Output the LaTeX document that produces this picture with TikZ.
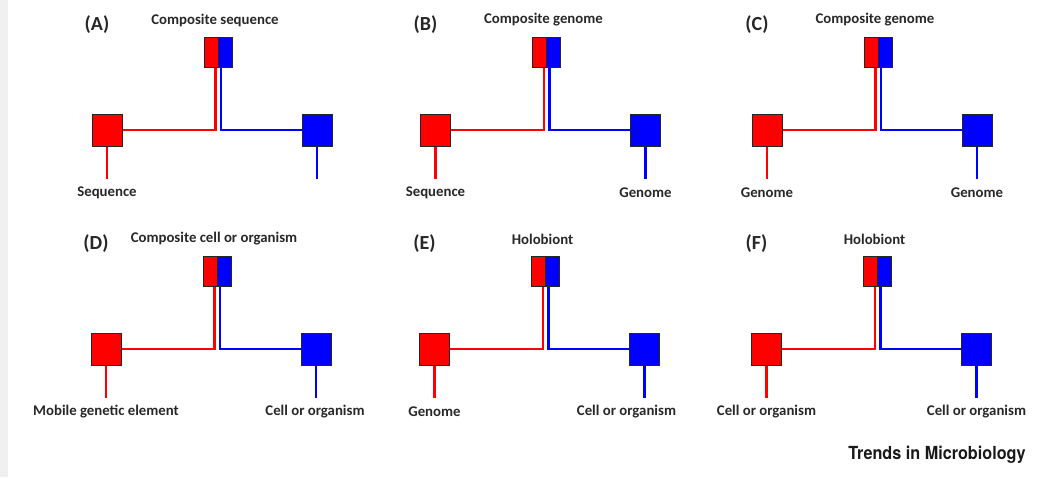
\documentclass[tikz,border=0pt]{standalone}
\usepackage{fontspec}
\usepackage{graphicx}
\setmainfont{Carlito}
\newfontfamily\logofont{TeX Gyre Heros}
\usetikzlibrary{positioning}

\definecolor{boxred}{RGB}{255,0,0}
\definecolor{boxblue}{RGB}{0,0,255}
\definecolor{textgrey}{RGB}{40,40,40}
\definecolor{stripgrey}{RGB}{240,240,240}

\tikzset{
  sidebox/.style={draw=black!85, line width=1, minimum width=30, minimum height=32, inner sep=0},
  halfbox/.style={draw=black!85, line width=1, minimum width=14, minimum height=30, inner sep=0},
  link/.style={line width=2.9},
  caption/.style={font=\bfseries\fontsize{14.8}{16}\selectfont, text=textgrey, inner sep=0},
  tag/.style={font=\bfseries\fontsize{20}{22}\selectfont, text=textgrey, inner sep=0},
}

\begin{document}
\begin{tikzpicture}[x=1pt, y=-1pt]
  \useasboundingbox (0,0) rectangle (1045,477);
  % grey strip on the left
  \fill[stripgrey] (0,0) rectangle (8,477);
  % six panels: origin = centre of the red box
  \foreach \ox/\oy/\tag/\top/\lft/\rgt/\rdx in {
      107/130/A/Composite sequence/Sequence//0,
      435.5/130/B/Composite genome/Sequence/Genome/0,
      767/130/C/Composite genome/Genome/Genome/0,
      106/349/D/Composite cell or organism/Mobile genetic element/Cell or organism/-1,
      434.5/349/E/Holobiont/Genome/Cell or organism/-18,
      766.5/349/F/Holobiont/Cell or organism/Cell or organism/0} {
    % boxes
    \node[sidebox, fill=boxred] (l\tag) at (\ox, \oy) {};
    \node[sidebox, fill=boxblue] (r\tag) at (\ox+210, \oy) {};
    \node[halfbox, fill=boxred] (cr\tag) at (\ox+104, \oy-78) {};
    \node[halfbox, fill=boxblue] (cb\tag) at (\ox+118, \oy-78) {};
    % joins
    \coordinate (jr\tag) at (\ox+108.5, \oy);
    \coordinate (jb\tag) at (\ox+114, \oy);
    \draw[link, boxred] (l\tag.east) -- (jr\tag) -- (jr\tag |- cr\tag.south);
    \draw[link, boxblue] (r\tag.west) -- (jb\tag) -- (jb\tag |- cb\tag.south);
    % stems
    \draw[link, boxred] (l\tag.south) -- ++(0,32) coordinate (sl\tag);
    \draw[link, boxblue] (r\tag.south) -- ++(0,32) coordinate (sr\tag);
    % texts
    \node[tag] (t\tag) at (\ox-10, \oy-105) {(\tag)};
    \node[caption] (c\tag) at (\ox+108, \oy-110) {\top};
    \node[caption] (bl\tag) at (\ox, \oy+63) {\lft};
    \node[caption] (br\tag) at (\ox+210+\rdx, \oy+63) {\rgt};
  }
  % journal name
  \node[inner sep=0, text=black!90] (logo) at (937, 455)
    {\scalebox{0.9}[1]{\logofont\bfseries\fontsize{18}{20}\selectfont Trends in Microbiology}};
\end{tikzpicture}
\end{document}
